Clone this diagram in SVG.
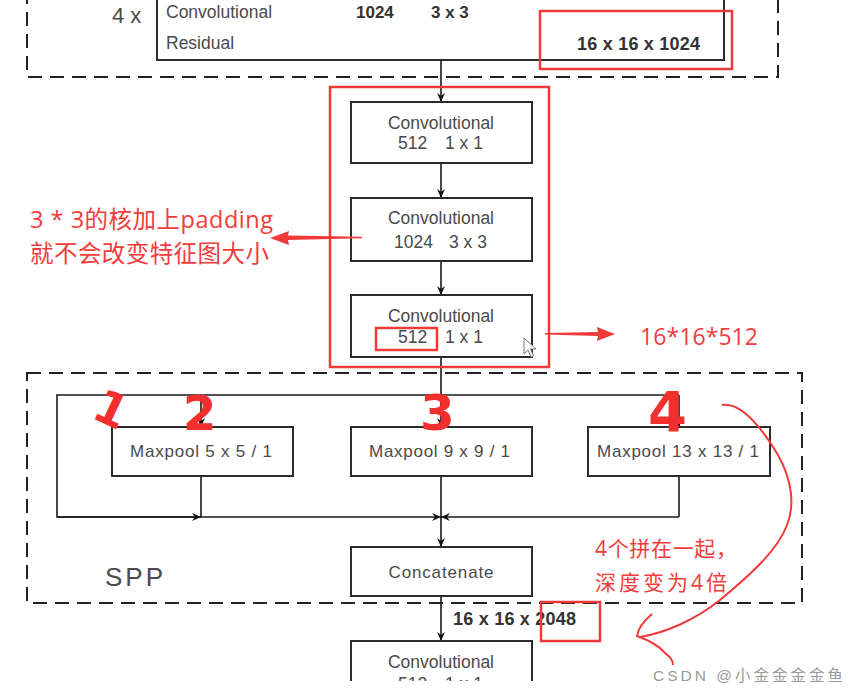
<svg xmlns="http://www.w3.org/2000/svg" width="860" height="694" viewBox="0 0 860 694">
<defs>
<marker id="ah" markerWidth="10" markerHeight="10" refX="9" refY="5" orient="auto" markerUnits="userSpaceOnUse">
<path d="M0,1 L9,5 L0,9 L3,5 Z" fill="#111"/>
</marker>
<style>
.box{fill:#fff;stroke:#2b2b2b;stroke-width:2}
.dash{fill:none;stroke:#222;stroke-width:2;stroke-dasharray:14 8}
.ln{fill:none;stroke:#1a1a1a;stroke-width:1.6}
.arr{fill:none;stroke:#1a1a1a;stroke-width:1.6;marker-end:url(#ah)}
.t{font-family:"Liberation Sans",Arial,sans-serif;fill:#4a4a4a}
.b{font-family:"Liberation Sans",Arial,sans-serif;fill:#333;font-weight:bold}
.red{fill:none;stroke:#f03a3a;stroke-width:2.5}
.rt{font-family:"Open Sans","Noto Sans CJK SC",sans-serif;fill:#f23c3c}
.hw{font-family:"DejaVu Sans",sans-serif;font-weight:bold;fill:#f22f2f}
</style>
</defs>
<rect width="860" height="694" fill="#fff"/>

<!-- top residual block -->
<g id="res-block">
<path class="dash" d="M27,-10 L27,77 L778,77 L778,-10"/>
<path d="M157,-5 L157,60 L724,60 L724,-5" fill="#fff" stroke="#2b2b2b" stroke-width="2"/>
<text class="t" x="112" y="23" font-size="22">4 x</text>
<text class="t" x="166" y="18" font-size="17.5">Convolutional</text>
<text class="b" x="356" y="18" font-size="17">1024</text>
<text class="b" x="431" y="18" font-size="17">3 x 3</text>
<text class="t" x="166" y="49" font-size="17.5">Residual</text>
<text class="b" x="577" y="50" font-size="18" textLength="123">16 x 16 x 1024</text>
</g>

<!-- connectors -->
<g id="connectors">
<line class="arr" x1="441" y1="60" x2="441" y2="102"/>
<line class="arr" x1="441" y1="163" x2="441" y2="198"/>
<line class="arr" x1="441" y1="262" x2="441" y2="295"/>
<line class="arr" x1="441" y1="357" x2="441" y2="427"/>
<polyline class="ln" points="441,395 57,395 57,517 201,517"/>
<line class="ln" x1="441" y1="395" x2="679" y2="395"/>
<line class="arr" x1="201" y1="395" x2="201" y2="427"/>
<line class="arr" x1="679" y1="395" x2="679" y2="427"/>
<line class="arr" x1="57" y1="517" x2="201" y2="517"/>
<line class="ln" x1="201" y1="476" x2="201" y2="517"/>
<line class="arr" x1="201" y1="517" x2="441" y2="517"/>
<polyline class="ln" points="679,476 679,517"/>
<line class="arr" x1="679" y1="517" x2="441" y2="517"/>
<line class="ln" x1="441" y1="476" x2="441" y2="517"/>
<line class="arr" x1="441" y1="517" x2="441" y2="547"/>
<line class="arr" x1="441" y1="596" x2="441" y2="641"/>
</g>

<g id="conv1">
<rect class="box" x="351" y="102" width="181" height="61"/>
<text class="t" x="441" y="129" font-size="17.5" text-anchor="middle">Convolutional</text>
<text class="t" x="398" y="149" font-size="17.5">512</text>
<text class="t" x="445" y="149" font-size="17.5">1 x 1</text>
</g>
<g id="conv2">
<rect class="box" x="351" y="198" width="181" height="63"/>
<text class="t" x="441" y="224" font-size="17.5" text-anchor="middle">Convolutional</text>
<text class="t" x="394" y="248" font-size="17.5">1024</text>
<text class="t" x="449" y="248" font-size="17.5">3 x 3</text>
</g>
<g id="conv3">
<rect class="box" x="351" y="295" width="181" height="62"/>
<text class="t" x="441" y="322" font-size="17.5" text-anchor="middle">Convolutional</text>
<text class="t" x="398" y="343" font-size="17.5">512</text>
<text class="t" x="445" y="343" font-size="17.5">1 x 1</text>
</g>

<!-- SPP -->
<g id="spp">
<rect class="dash" x="27" y="373" width="775" height="230"/>
<text class="t" x="105" y="586" font-size="26" textLength="58">SPP</text>
</g>
<g id="maxpool5">
<rect class="box" x="112" y="427" width="181" height="49"/>
<text class="t" x="130" y="457" font-size="17" textLength="142">Maxpool  5 x 5 / 1</text>
</g>
<g id="maxpool9">
<rect class="box" x="351" y="427" width="181" height="49"/>
<text class="t" x="369" y="457" font-size="17" textLength="141">Maxpool  9 x 9 / 1</text>
</g>
<g id="maxpool13">
<rect class="box" x="588" y="427" width="182" height="49"/>
<text class="t" x="597" y="457" font-size="17" textLength="162">Maxpool  13 x 13 / 1</text>
</g>
<g id="concat">
<rect class="box" x="351" y="547" width="181" height="49"/>
<text class="t" x="441" y="578" font-size="17" text-anchor="middle" textLength="105">Concatenate</text>
</g>
<text class="b" x="453" y="625" font-size="18" textLength="123">16 x 16 x 2048</text>

<g id="conv4">
<rect class="box" x="351" y="641" width="181" height="70"/>
<text class="t" x="441" y="668" font-size="17.5" text-anchor="middle">Convolutional</text>
<text class="t" x="398" y="690" font-size="17.5">512</text>
<text class="t" x="445" y="690" font-size="17.5">1 x 1</text>
</g>
<rect x="0" y="681" width="860" height="13" fill="#fff"/>

<!-- cursor -->
<path d="M524,338 L524,354 L528,350 L531,357 L533.5,356 L530.5,349 L536,349 Z" fill="#fff" stroke="#777" stroke-width="1"/>

<!-- red annotations -->
<g id="annotations">
<rect class="red" x="540" y="11" width="192" height="58"/>
<rect class="red" x="330" y="87" width="219" height="280"/>
<rect class="red" x="376" y="328" width="61" height="22"/>
<rect class="red" x="541" y="602" width="59" height="39"/>

<path d="M362,236.8 L288,235.5 L289,231 L270,238 L289,245 L288,240 L362,238.2 Z" fill="#f03a3a"/>
<text class="rt" x="30" y="228" font-size="23.5" textLength="243">3 * 3的核加上padding</text>
<text class="rt" x="30" y="262" font-size="23.5" textLength="239">就不会改变特征图大小</text>

<path d="M545,333 L598,332 L597,327 L615,334 L597,341 L598,336 L545,334.5 Z" fill="#f03a3a"/>
<text class="rt" x="640" y="345" font-size="23" textLength="118">16*16*512</text>

<text class="rt" x="595" y="556" font-size="21" textLength="142">4个拼在一起，</text>
<text class="rt" x="595" y="590" font-size="21" textLength="132">深度变为4倍</text>

<path d="M722,405 C740,402 760,425 778,455 C792,480 795,505 787,525 C778,550 750,575 720,600 C695,620 665,633 640,637" fill="none" stroke="#f03a3a" stroke-width="2"/>
<path d="M652,614 C645,620 638,628 637,636 C648,640 658,645 664,652 C670,657 673,660 673,665" fill="none" stroke="#f03a3a" stroke-width="2"/>

<text class="hw" x="95" y="426" font-size="46" transform="rotate(25 113 410)">1</text>
<text class="hw" x="183" y="430" font-size="48" textLength="52">2</text>
<text class="hw" x="420" y="430" font-size="50" textLength="36">3</text>
<text class="hw" x="648" y="431" font-size="56" textLength="52">4</text>
</g>

<text x="653" y="681" font-family="'Liberation Sans','Noto Sans CJK SC',sans-serif" font-size="15.5" fill="#9a9a9a" textLength="190">CSDN @小金金金金鱼</text>
</svg>
